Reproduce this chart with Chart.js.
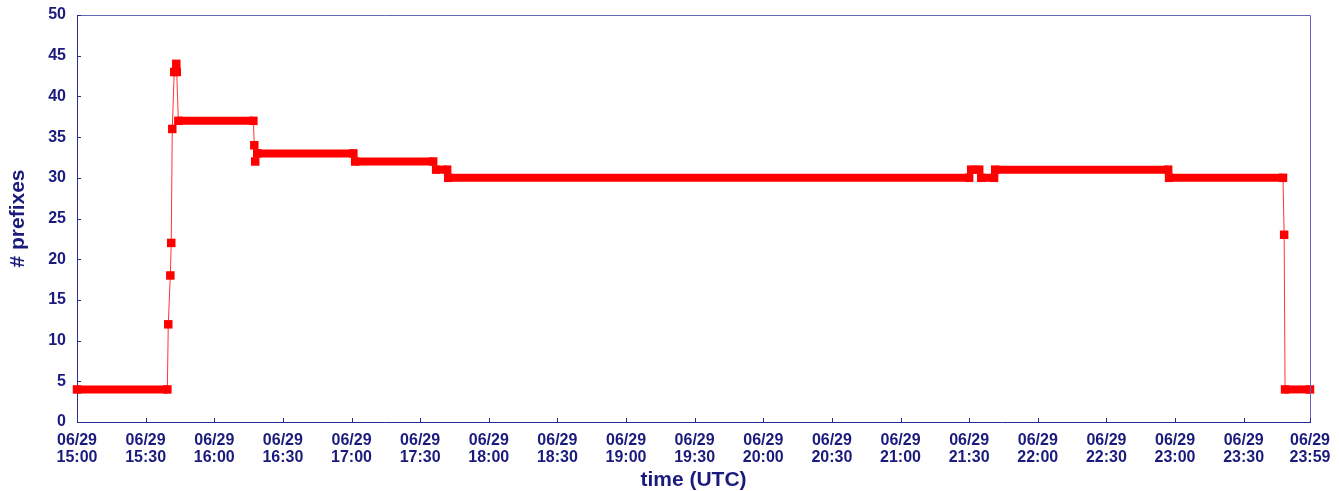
<!DOCTYPE html>
<html>
<head>
<meta charset="utf-8">
<title># prefixes over time</title>
<script src="https://cdn.jsdelivr.net/npm/chart.js@4/dist/chart.umd.min.js"></script>
<style>
    html, body { margin: 0; padding: 0; background: #fff; }
    #wrap { width: 1339px; height: 491px; position: relative; }
</style>
</head>
<body>
<div id="wrap"><canvas id="prefixChart"></canvas></div>
<script>
// sample times, minutes after 06/29 15:00 UTC
const sampleMinutes = [0, 39.5, 39.9, 40.8, 41.2, 41.65, 42.5, 43.4, 43.6, 44.3,
    77.1, 77.5, 77.9, 78.8, 120.8, 121.6, 155.7, 157.0, 161.8, 162.3,
    390.0, 390.9, 394.4, 395.3, 400.9, 401.4, 477.0, 477.4, 527.2, 527.7,
    528.1, 539];
// number of prefixes seen at each sample
const prefixCounts = [4, 4, 12, 18, 22, 36, 43, 44, 43, 37,
    37, 34, 32, 33, 33, 32, 32, 31, 31, 30,
    30, 31, 31, 30, 30, 31, 31, 30, 30, 23,
    4, 4];
const tickDate = '06/29';
const tickTimes = ['15:00', '15:30', '16:00', '16:30', '17:00', '17:30', '18:00', '18:30',
    '19:00', '19:30', '20:00', '20:30', '21:00', '21:30', '22:00', '22:30',
    '23:00', '23:30', '23:59'];
const yTicks = [0, 5, 10, 15, 20, 25, 30, 35, 40, 45, 50];

const navy = '#1b1b7d';
const axisColor = '#2a2a92';
const frameColor = '#6464b8';
const red = '#ff0000';
const font = "'Liberation Sans', Arial, Helvetica, sans-serif";

function toMinutes(hhmm) {
    var p = hhmm.split(':');
    return (Number(p[0]) - 15) * 60 + Number(p[1]);
}
const tickMinutes = tickTimes.map(toMinutes);

const points = sampleMinutes.map(function (m, i) {
    return { x: m, y: prefixCounts[i] };
});

// frame on top/right plus small inward tick marks
const framePlugin = {
    id: 'frame',
    afterDraw: function (chart) {
        const ctx = chart.ctx;
        const a = chart.chartArea;
        const xs = chart.scales.x;
        const ys = chart.scales.y;
        ctx.save();
        ctx.lineWidth = 1;
        ctx.strokeStyle = frameColor;
        ctx.beginPath();
        ctx.moveTo(a.left, a.top + 0.5);
        ctx.lineTo(a.right + 0.5, a.top + 0.5);
        ctx.lineTo(a.right + 0.5, a.bottom);
        ctx.stroke();

        ctx.strokeStyle = axisColor;
        ctx.beginPath();
        xs.ticks.forEach(function (t) {
            const px = Math.round(xs.getPixelForValue(t.value)) + 0.5;
            ctx.moveTo(px, a.bottom);
            ctx.lineTo(px, a.bottom - 4);
        });
        ys.ticks.forEach(function (t) {
            const py = Math.round(ys.getPixelForValue(t.value)) + 0.5;
            ctx.moveTo(a.left, py);
            ctx.lineTo(a.left + 4, py);
        });
        ctx.stroke();
        ctx.restore();
    }
};

const ctx = document.getElementById('prefixChart').getContext('2d');
new Chart(ctx, {
    type: 'line',
    data: {
        datasets: [{
            label: '# prefixes',
            data: points,
            borderColor: red,
            borderWidth: 1,
            borderCapStyle: 'butt',
            backgroundColor: red,
            pointStyle: 'rect',
            pointRadius: 6,
            pointBorderWidth: 0,
            pointBackgroundColor: red,
            pointHoverRadius: 6,
            tension: 0,
            fill: false,
            clip: false,
            segment: {
                // flat runs are drawn as a thick band like the dense markers
                borderWidth: function (c) {
                    return c.p0.parsed.y === c.p1.parsed.y ? 8 : 1;
                },
                borderColor: function (c) {
                    return c.p0.parsed.y === c.p1.parsed.y ? red : 'rgba(255,0,0,0.8)';
                }
            }
        }]
    },
    options: {
        responsive: true,
        maintainAspectRatio: false,
        animation: false,
        events: [],
        layout: { padding: { left: 0, right: 29, top: 15, bottom: 0 } },
        plugins: {
            legend: { display: false },
            tooltip: { enabled: false }
        },
        scales: {
            x: {
                type: 'linear',
                min: 0,
                max: tickMinutes[tickMinutes.length - 1],
                afterBuildTicks: function (scale) {
                    scale.ticks = tickMinutes.map(function (v) { return { value: v }; });
                },
                afterFit: function (scale) {
                    scale.height = 69;
                    scale.paddingLeft = 0;
                    scale.paddingRight = 0;
                },
                grid: { display: false, drawTicks: false },
                border: { display: true, color: axisColor, width: 1 },
                ticks: {
                    autoSkip: false,
                    maxRotation: 0,
                    padding: 10,
                    color: navy,
                    font: { family: font, size: 16, weight: 'bold', lineHeight: 1.05 },
                    callback: function (value) {
                        const i = tickMinutes.indexOf(value);
                        return [tickDate, tickTimes[i]];
                    }
                },
                title: {
                    display: true,
                    text: 'time (UTC)',
                    color: navy,
                    padding: { top: 0, bottom: 0 },
                    font: { family: font, size: 21, weight: 'bold', lineHeight: 1 }
                }
            },
            y: {
                min: 0,
                max: 50,
                afterBuildTicks: function (scale) {
                    scale.ticks = yTicks.map(function (v) { return { value: v }; });
                },
                afterFit: function (scale) {
                    scale.width = 77;
                    scale.paddingTop = 0;
                    scale.paddingBottom = 0;
                },
                grid: { display: false, drawTicks: false },
                border: { display: true, color: axisColor, width: 1 },
                ticks: {
                    padding: 11,
                    color: navy,
                    font: { family: font, size: 16, weight: 'bold' }
                },
                title: {
                    display: true,
                    text: '# prefixes',
                    color: navy,
                    padding: { top: 8, bottom: 0 },
                    font: { family: font, size: 21, weight: 'bold', lineHeight: 1 }
                }
            }
        }
    },
    plugins: [framePlugin]
});
</script>
</body>
</html>
